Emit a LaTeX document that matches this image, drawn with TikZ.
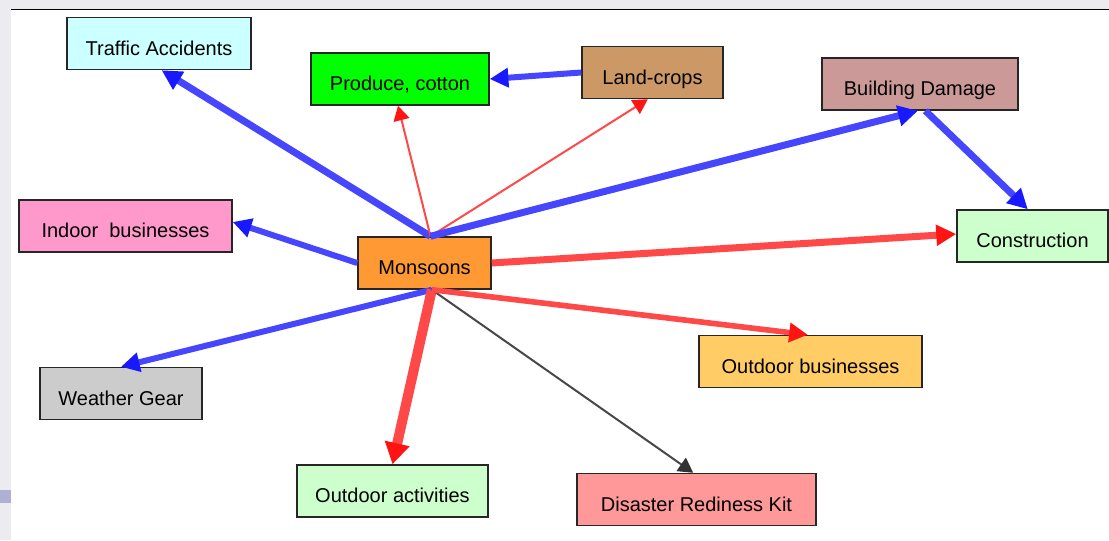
\documentclass[tikz,border=0pt]{standalone}
\usepackage{fontspec}
\setmainfont{Liberation Sans}
\usetikzlibrary{arrows.meta}
\definecolor{bgside}{RGB}{236,236,240}
\definecolor{lav}{RGB}{176,176,212}
\definecolor{lnblue}{RGB}{70,70,255}
\definecolor{hdblue}{RGB}{25,25,255}
\definecolor{lnred}{RGB}{255,72,72}
\definecolor{hdred}{RGB}{255,20,20}
\definecolor{lngrey}{RGB}{72,72,72}
\definecolor{hdgrey}{RGB}{50,50,50}
\definecolor{cTraffic}{RGB}{204,255,255}
\definecolor{cProduce}{RGB}{0,255,0}
\definecolor{cLand}{RGB}{204,153,102}
\definecolor{cBuild}{RGB}{204,153,153}
\definecolor{cConstr}{RGB}{204,255,204}
\definecolor{cIndoor}{RGB}{255,153,204}
\definecolor{cMon}{RGB}{255,153,51}
\definecolor{cOutBus}{RGB}{255,204,102}
\definecolor{cWeather}{RGB}{204,204,204}
\definecolor{cDisaster}{RGB}{255,153,153}
\tikzset{
  box/.style={draw=black!85, line width=1.1pt, inner sep=0pt, minimum height=39pt,
    text height=18.75pt, text depth=1.5pt, font=\fontsize{15}{18}\selectfont},
  bluethick/.style={draw=lnblue, line width=5.25pt, -{Triangle[length=15pt,width=15pt,color=hdblue]}},
  bluemid/.style={draw=lnblue, line width=4.5pt, -{Triangle[length=14pt,width=14pt,color=hdblue]}},
  redthin/.style={draw=lnred, line width=1.5pt, -{Triangle[length=11pt,width=12pt,color=hdred]}},
  redthick/.style={draw=lnred, line width=5.25pt, -{Triangle[length=15pt,width=15pt,color=hdred]}},
  redmid/.style={draw=lnred, line width=4.2pt, -{Triangle[length=14pt,width=14pt,color=hdred]}},
  redheavy/.style={draw=lnred, line width=7.5pt, -{Triangle[length=16pt,width=18pt,color=hdred]}},
  greythin/.style={draw=lngrey, line width=1.5pt, -{Triangle[length=11pt,width=12pt,color=hdgrey]}},
}
\begin{document}
\begin{tikzpicture}[x=0.75pt,y=-0.75pt]
\useasboundingbox (0,0) rectangle (1109,540);
\fill[bgside] (0,0) rectangle (1109,540);
\fill[white] (11,10) rectangle (1109,540);
\fill[lav] (0,490) rectangle (11,503);
\draw[black, line width=1.1pt] (11,9.5) -- (1109,9.5);

\node[box, fill=cTraffic, minimum width=138pt] (traffic) at (159,43.5) {Traffic Accidents};
\node[box, fill=cProduce, minimum width=133.5pt] (produce) at (400,79) {Produce, cotton};
\node[box, fill=cLand, minimum width=105.75pt] (land) at (652.5,72.5) {Land-crops};
\node[box, fill=cBuild, minimum width=147pt] (build) at (920,84) {Building Damage};
\node[box, fill=cConstr, minimum width=113.25pt] (constr) at (1032.5,236) {Construction};
\node[box, fill=cIndoor, minimum width=159.75pt] (indoor) at (125.5,226) {Indoor\ \ businesses};
\node[box, fill=cMon, minimum width=99.75pt] (mon) at (424.5,263) {Monsoons};
\node[box, fill=cOutBus, minimum width=167.25pt] (outbus) at (810.5,361.5) {Outdoor businesses};
\node[box, fill=cWeather, minimum width=121.5pt] (weather) at (121,393.5) {Weather Gear};
\node[box, fill=cConstr, minimum width=143.25pt] (outact) at (392.5,491) {Outdoor activities};
\node[box, fill=cDisaster, minimum width=179.25pt] (disaster) at (696.5,499.5) {Disaster Rediness Kit};

% connectors
\draw[bluethick] ([xshift=4.5pt]mon.north) -- ([xshift=2pt]traffic.south);
\draw[redthin] ([xshift=4.5pt]mon.north) -- ([xshift=-1.5pt]produce.south);
\draw[redthin] ([xshift=4.5pt]mon.north) -- ([xshift=-3.5pt]land.south);
\draw[bluethick] ([xshift=4.5pt]mon.north) -- ([xshift=-1.5pt]build.south);
\draw[bluemid] (mon.west) -- ([yshift=3pt]indoor.east);
\draw[redthick] (mon.east) -- ([yshift=1.5pt]constr.west);
\draw[bluemid] ([xshift=5.5pt]mon.south) -- (weather.north);
\draw[redheavy] ([xshift=5.5pt]mon.south) -- (outact.north);
\draw[greythin] ([xshift=5.5pt]mon.south) -- ([xshift=-2.5pt]disaster.north);
\draw[redmid] ([xshift=5.5pt]mon.south) -- ([xshift=-2pt]outbus.north);
\draw[bluemid] (land.west) -- (produce.east);
\draw[bluethick] ([xshift=4pt]build.south) -- ([xshift=-3.5pt]constr.north);
\end{tikzpicture}
\end{document}
